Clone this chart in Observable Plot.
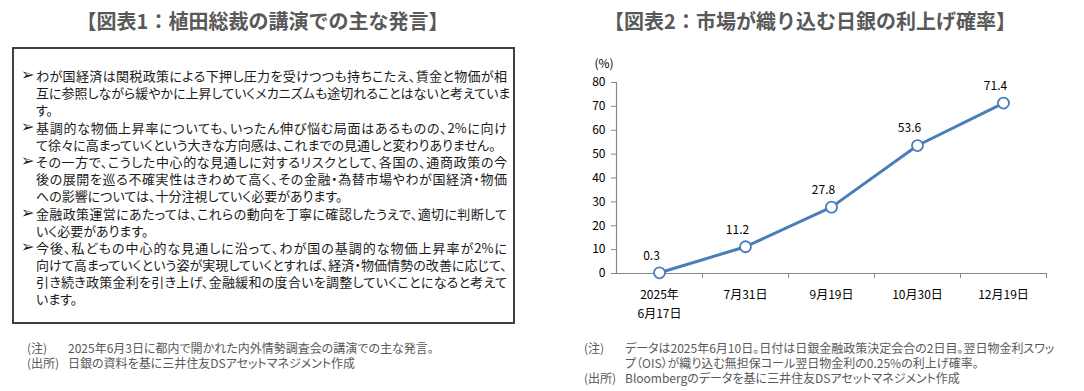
<!DOCTYPE html>
<html lang="ja">
<head>
<meta charset="utf-8">
<script src="https://cdn.jsdelivr.net/npm/d3@7"></script>
<script src="https://cdn.jsdelivr.net/npm/@observablehq/plot@0.6"></script>
<style>
  html, body { margin: 0; padding: 0; background: #fff; }
  body { width: 1084px; height: 391px; position: relative; overflow: hidden;
         font-family: "Noto Sans CJK JP", "Noto Sans", sans-serif; }
  .title { position: absolute; top: 6px; font-size: 20px; font-weight: bold; color: #595959;
           text-align: center; line-height: 30px; }
  .box { position: absolute; left: 12px; top: 47px; width: 499px; height: 273px;
         border: 2px solid #404040; }
  .lines { position: absolute; left: 7px; top: 18px; }
  .line { position: relative; height: 17.2px; line-height: 17.2px; font-size: 13px; color: #1a1a1a;
          white-space: nowrap; font-feature-settings: "palt"; }
  .line .txt { position: absolute; left: 15px; width: 471px; }
  .line .txt.full { text-align: justify; text-align-last: justify; }
  .line .mark { position: absolute; left: 0; top: -1px; font-family: "DejaVu Sans"; font-size: 16px; }
  .notes { position: absolute; font-size: 12px; color: #595959; line-height: 15px;
           font-feature-settings: "palt"; }
  .note { position: relative; height: 15px; white-space: nowrap; }
  .note .k { position: absolute; left: 0; }
  .note .v { position: absolute; left: 41px; }
  #chart { position: absolute; left: 560px; top: 40px; }
</style>
</head>
<body>
<div class="title" style="left:0;width:525px">【図表1：植田総裁の講演での主な発言】</div>
<div class="title" style="left:560px;width:500px">【図表2：市場が織り込む日銀の利上げ確率】</div>
<div class="box"><div class="lines" id="lines"></div></div>
<div class="notes" id="notesL" style="left:27px;top:340px"></div>
<div class="notes" id="notesR" style="left:584px;top:340px"></div>
<div id="chart"></div>
<script>
// ---- Figure 1: text content ----
const bullets = [
  ["わが国経済は関税政策による下押し圧力を受けつつも持ちこたえ、賃金と物価が相",
   "互に参照しながら緩やかに上昇していくメカニズムも途切れることはないと考えていま",
   "す。"],
  ["基調的な物価上昇率についても、いったん伸び悩む局面はあるものの、2%に向け",
   "て徐々に高まっていくという大きな方向感は、これまでの見通しと変わりありません。"],
  ["その一方で、こうした中心的な見通しに対するリスクとして、各国の、通商政策の今",
   "後の展開を巡る不確実性はきわめて高く、その金融・為替市場やわが国経済・物価",
   "への影響については、十分注視していく必要があります。"],
  ["金融政策運営にあたっては、これらの動向を丁寧に確認したうえで、適切に判断して",
   "いく必要があります。"],
  ["今後、私どもの中心的な見通しに沿って、わが国の基調的な物価上昇率が2%に",
   "向けて高まっていくという姿が実現していくとすれば、経済・物価情勢の改善に応じて、",
   "引き続き政策金利を引き上げ、金融緩和の度合いを調整していくことになると考えて",
   "います。"]
];
const notesLeft = [
  ["(注)", "2025年6月3日に都内で開かれた内外情勢調査会の講演での主な発言。"],
  ["(出所)", "日銀の資料を基に三井住友DSアセットマネジメント作成"]
];
const notesRight = [
  ["(注)", "データは2025年6月10日。日付は日銀金融政策決定会合の2日目。翌日物金利スワッ"],
  ["", "プ（OIS）が織り込む無担保コール翌日物金利の0.25%の利上げ確率。"],
  ["(出所)", "Bloombergのデータを基に三井住友DSアセットマネジメント作成"]
];

// ---- Figure 2: chart data ----
const categories = ["2025年\n6月17日", "7月31日", "9月19日", "10月30日", "12月19日"];
const probabilities = [0.3, 11.2, 27.8, 53.6, 71.4];
const yTicks = [0, 10, 20, 30, 40, 50, 60, 70, 80];
const yUnit = "(%)";

// build text box
const linesEl = document.getElementById("lines");
bullets.forEach(b => {
  b.forEach((t, j) => {
    const div = document.createElement("div");
    div.className = "line";
    if (j === 0) {
      const m = document.createElement("span");
      m.className = "mark"; m.textContent = "➢";
      div.appendChild(m);
    }
    const s = document.createElement("span");
    s.className = "txt" + (j < b.length - 1 ? " full" : "");
    s.textContent = t;
    div.appendChild(s);
    linesEl.appendChild(div);
  });
});
function buildNotes(id, arr) {
  const el = document.getElementById(id);
  arr.forEach(([k, v]) => {
    const d = document.createElement("div"); d.className = "note";
    const a = document.createElement("span"); a.className = "k"; a.textContent = k;
    const b = document.createElement("span"); b.className = "v"; b.textContent = v;
    d.appendChild(a); d.appendChild(b); el.appendChild(d);
  });
}
buildNotes("notesL", notesLeft);
buildNotes("notesR", notesRight);

// chart
const rows = categories.map((c, i) => ({i, label: c, value: probabilities[i]}));
const boundaries = d3.range(categories.length).map(i => i + 0.5);
const blue = "#4A7EBB";
const axisGray = "#868686";

const chart = Plot.plot({
  width: 520,
  height: 290,
  marginLeft: 56,
  marginRight: 34,
  marginTop: 42,
  marginBottom: 57,
  style: {fontFamily: "'Noto Sans CJK JP', sans-serif", fontSize: "12px", color: "#000", background: "transparent"},
  x: {type: "linear", domain: [-0.5, categories.length - 0.5], axis: null},
  y: {domain: [0, 80], axis: null, label: null},
  marks: [
    Plot.ruleX([-0.5], {stroke: axisGray, strokeWidth: 1.2}),
    Plot.ruleY([0], {stroke: axisGray, strokeWidth: 1.2}),
    Plot.axisY({ticks: yTicks, tickSize: 5, tickPadding: 6, stroke: axisGray, fill: "#000",
                label: null, fontSize: 12, style: "letter-spacing:1px"}),
    Plot.axisX({ticks: boundaries, tickSize: 5, stroke: axisGray, tickFormat: () => "", label: null}),
    Plot.axisX({ticks: d3.range(categories.length), tickSize: 0, tickPadding: 12,
                tickFormat: i => categories[i], lineHeight: 1.6, fill: "#000", label: null,
                fontSize: 12, style: "letter-spacing:0.5px"}),
    Plot.text([yUnit], {frameAnchor: "top-left", dx: -22, dy: -23, fontSize: 12, fill: "#000",
                        style: "letter-spacing:2px"}),
    Plot.line(rows, {x: "i", y: "value", stroke: blue, strokeWidth: 3}),
    Plot.dot(rows, {x: "i", y: "value", r: 5.5, fill: "white", stroke: blue, strokeWidth: 1.8}),
    Plot.text(rows, {x: "i", y: "value", text: d => d.value.toFixed(1), dx: -8, dy: -17,
                     fontSize: 12, fill: "#000", style: "letter-spacing:1px"})
  ]
});
document.getElementById("chart").appendChild(chart);
</script>
</body>
</html>
